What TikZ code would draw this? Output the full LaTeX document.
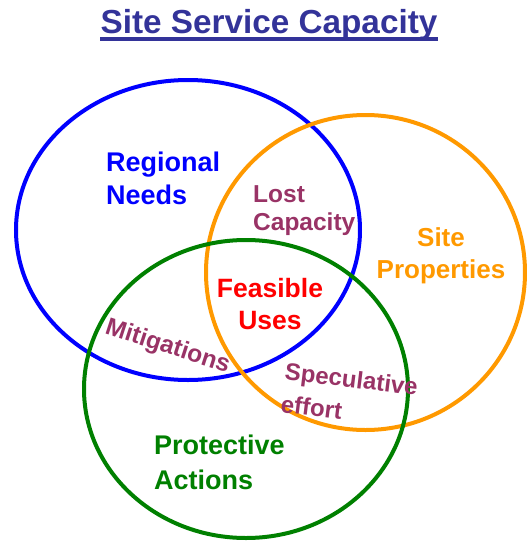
\documentclass[tikz,border=0pt]{standalone}
\usepackage{fontspec}
\setmainfont{Liberation Sans}
\definecolor{titleblue}{HTML}{333399}
\definecolor{vblue}{HTML}{0000FF}
\definecolor{vorange}{HTML}{FF9900}
\definecolor{vgreen}{HTML}{008000}
\definecolor{vmaroon}{HTML}{993366}
\definecolor{vred}{HTML}{FF0000}
\begin{document}
\begin{tikzpicture}[x=1pt,y=-1pt,
  ring/.style={line width=4pt},
  lbl/.style={inner sep=0pt, font=\bfseries\fontsize{27}{33}\selectfont},
  sublbl/.style={inner sep=0pt, font=\bfseries\fontsize{24.5}{28}\selectfont, text=vmaroon}]
\useasboundingbox (0,0) rectangle (527,542);
% circles
\draw[ring, vblue] (188,230) ellipse [x radius=172, y radius=150];
\draw[ring, vorange] (365.5,272.5) ellipse [x radius=159.5, y radius=157.5];
\draw[ring, vgreen] (246,389) ellipse [x radius=162, y radius=149];
% title
\node[inner sep=0pt, anchor=base, text=titleblue, font=\bfseries\fontsize{33.3}{38}\selectfont] (title) at (269,33) {Site Service Capacity};
\draw[titleblue, line width=3.5pt] ([yshift=-6pt]title.base west) -- ([yshift=-6pt]title.base east);
% labels
\node[lbl, text=vblue, align=left, anchor=base west] (regional) at (106,204) {Regional\\Needs};
\node[sublbl, align=left, anchor=base west] (lost) at (253,230) {Lost\\Capacity};
\node[lbl, text=vorange, align=center, anchor=base, font=\bfseries\fontsize{26}{32}\selectfont] (site) at (441,278) {Site\\Properties};
\node[lbl, text=vred, align=center, anchor=base, font=\bfseries\fontsize{26.5}{32}\selectfont] (feasible) at (270,329) {Feasible\\Uses};
\node[lbl, text=vgreen, align=left, anchor=base west, font=\bfseries\fontsize{27}{35}\selectfont] (protective) at (154,489) {Protective\\Actions};
\node[sublbl, anchor=base west, rotate=-18] (mitig) at (104,333) {Mitigations};
\node[sublbl, align=left, anchor=base west, rotate=-7, font=\bfseries\fontsize{24}{33}\selectfont] (spec) at (280,412) {Speculative\\effort};
\end{tikzpicture}
\end{document}
